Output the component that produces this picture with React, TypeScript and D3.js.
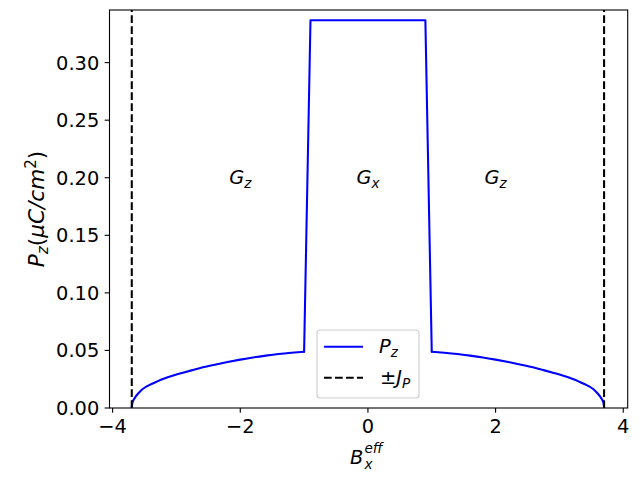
import React from "react";
import * as d3 from "d3";

// Field values (B_x^eff) and polarization P_z
const leftBranchX = [-3.7, -3.69, -3.67, -3.64, -3.6, -3.55, -3.5, -3.4, -3.3, -3.2, -3.05, -2.9, -2.75, -2.6, -2.4, -2.2, -2.0, -1.8, -1.6, -1.4, -1.2, -1.0];
const leftBranchY = [0.001, 0.0045, 0.0072, 0.0098, 0.0126, 0.0155, 0.0176, 0.0206, 0.0231, 0.0254, 0.0282, 0.0306, 0.0329, 0.0351, 0.0376, 0.0399, 0.042, 0.0439, 0.0455, 0.0469, 0.048, 0.0489];
const middleX = [-1.0, -0.9, 0.9, 1.0];
const middleY = [0.0489, 0.3368, 0.3368, 0.0489];
const rightBranchX = [1.0, 1.2, 1.4, 1.6, 1.8, 2.0, 2.2, 2.4, 2.6, 2.75, 2.9, 3.05, 3.2, 3.3, 3.4, 3.5, 3.55, 3.6, 3.64, 3.67, 3.69, 3.7];
const rightBranchY = [0.0489, 0.048, 0.0469, 0.0455, 0.0439, 0.042, 0.0399, 0.0376, 0.0351, 0.0329, 0.0306, 0.0282, 0.0254, 0.0231, 0.0206, 0.0176, 0.0155, 0.0126, 0.0098, 0.0072, 0.0045, 0.001];
const jpLines = [-3.7, 3.7];
const xTicks = [-4, -2, 0, 2, 4];
const yTicks = [0, 0.05, 0.1, 0.15, 0.2, 0.25, 0.3];
const regionLabels = [
  { x: -2, y: 0.2, base: "G", sub: "z" },
  { x: 0, y: 0.2, base: "G", sub: "x" },
  { x: 2, y: 0.2, base: "G", sub: "z" },
];

const W = 640, H = 480;
const L = 109.5, R = 627.7, T = 10, B = 408;
const FONT = "'DejaVu Sans', sans-serif";
const FS = 19.4;
const SUB = 13.6;
const YL = 21.6;
const YLSUB = 15.1;

export default function App() {
  const x = d3.scaleLinear().domain([-4.049, 4.07]).range([L, R]);
  const y = d3.scaleLinear().domain([0, 0.3457]).range([B, T]);
  const toPts = (xs: number[], ys: number[]) => xs.map((v, i) => [v, ys[i]] as [number, number]);
  const smooth = d3.line<[number, number]>().x(d => x(d[0])).y(d => y(d[1])).curve(d3.curveMonotoneX);
  const straight = d3.line<[number, number]>().x(d => x(d[0])).y(d => y(d[1]));
  const fmtY = (v: number) => v.toFixed(2);
  const fmtX = (v: number) => (v < 0 ? "\u2212" + Math.abs(v) : String(v));
  const tick = 4.86;
  const lineStyle = { fill: "none", stroke: "#0000ff", strokeWidth: 2.08, strokeLinejoin: "round" as const, strokeLinecap: "round" as const };

  return (
    <svg width={W} height={H} style={{ position: "absolute", left: 0, top: 0, background: "#fff" }} fontFamily={FONT}>
      <rect x={0} y={0} width={W} height={H} fill="#fff" />
      <defs>
        <clipPath id="plotclip">
          <rect x={L} y={T} width={R - L} height={B - T} />
        </clipPath>
      </defs>
      <g clipPath="url(#plotclip)">
        <path d={smooth(toPts(leftBranchX, leftBranchY)) || ""} {...lineStyle} />
        <path d={straight(toPts(middleX, middleY)) || ""} {...lineStyle} />
        <path d={smooth(toPts(rightBranchX, rightBranchY)) || ""} {...lineStyle} />
        {jpLines.map((v, i) => (
          <line key={i} x1={x(v)} x2={x(v)} y1={B} y2={T} stroke="#000" strokeWidth={2.08} strokeDasharray="7.7,3.3" />
        ))}
      </g>
      {regionLabels.map((r, i) => (
        <text key={i} x={x(r.x)} y={y(r.y) + 6.5} textAnchor="middle" fontSize={FS} fill="#000">
          <tspan fontStyle="italic">{r.base}</tspan>
          <tspan fontStyle="italic" fontSize={SUB} dy={3.5}>{r.sub}</tspan>
        </text>
      ))}
      {/* spines */}
      <rect x={L} y={T} width={R - L} height={B - T} fill="none" stroke="#000" strokeWidth={1.1} />
      {/* x ticks */}
      {xTicks.map((t, i) => (
        <g key={i}>
          <line x1={x(t)} x2={x(t)} y1={B} y2={B + tick} stroke="#000" strokeWidth={1.1} />
          <text x={x(t)} y={B + 25} textAnchor="middle" fontSize={FS} fill="#000">{fmtX(t)}</text>
        </g>
      ))}
      {/* y ticks */}
      {yTicks.map((t, i) => (
        <g key={i}>
          <line x1={L - tick} x2={L} y1={y(t)} y2={y(t)} stroke="#000" strokeWidth={1.1} />
          <text x={L - 2 * tick - 0.5} y={y(t) + 7} textAnchor="end" fontSize={FS} fill="#000">{fmtY(t)}</text>
        </g>
      ))}
      {/* x label */}
      <text x={350} y={464} fontSize={FS} fill="#000" fontStyle="italic">B</text>
      <text x={364.5} y={453} fontSize={SUB} fill="#000" fontStyle="italic">eff</text>
      <text x={364.5} y={469} fontSize={SUB} fill="#000" fontStyle="italic">x</text>
      {/* y label */}
      <text transform={`translate(44,${(T + B) / 2}) rotate(-90)`} textAnchor="middle" fontSize={YL} fill="#000">
        <tspan fontStyle="italic">P</tspan>
        <tspan fontStyle="italic" fontSize={YLSUB} dy={4}>z</tspan>
        <tspan dy={-4}>(</tspan>
        <tspan fontStyle="italic">μC/cm</tspan>
        <tspan fontSize={YLSUB} dy={-8.5}>2</tspan>
        <tspan dy={8.5}>)</tspan>
      </text>
      {/* legend */}
      <rect x={317} y={330} width={102} height={68} rx={3} fill="#fff" fillOpacity={0.8} stroke="#cccccc" strokeWidth={1.1} />
      <line x1={324} x2={363} y1={346.7} y2={346.7} stroke="#0000ff" strokeWidth={2.08} />
      <line x1={324} x2={363} y1={377.7} y2={377.7} stroke="#000" strokeWidth={2.08} strokeDasharray="7.7,3.3" />
      <text x={379} y={353} fontSize={FS} fill="#000">
        <tspan fontStyle="italic">P</tspan>
        <tspan fontStyle="italic" fontSize={SUB} dy={3.5}>z</tspan>
      </text>
      <text x={380} y={384} fontSize={FS} fill="#000">
        <tspan>±</tspan>
        <tspan fontStyle="italic">J</tspan>
        <tspan fontStyle="italic" fontSize={SUB} dy={3.5}>P</tspan>
      </text>
    </svg>
  );
}
